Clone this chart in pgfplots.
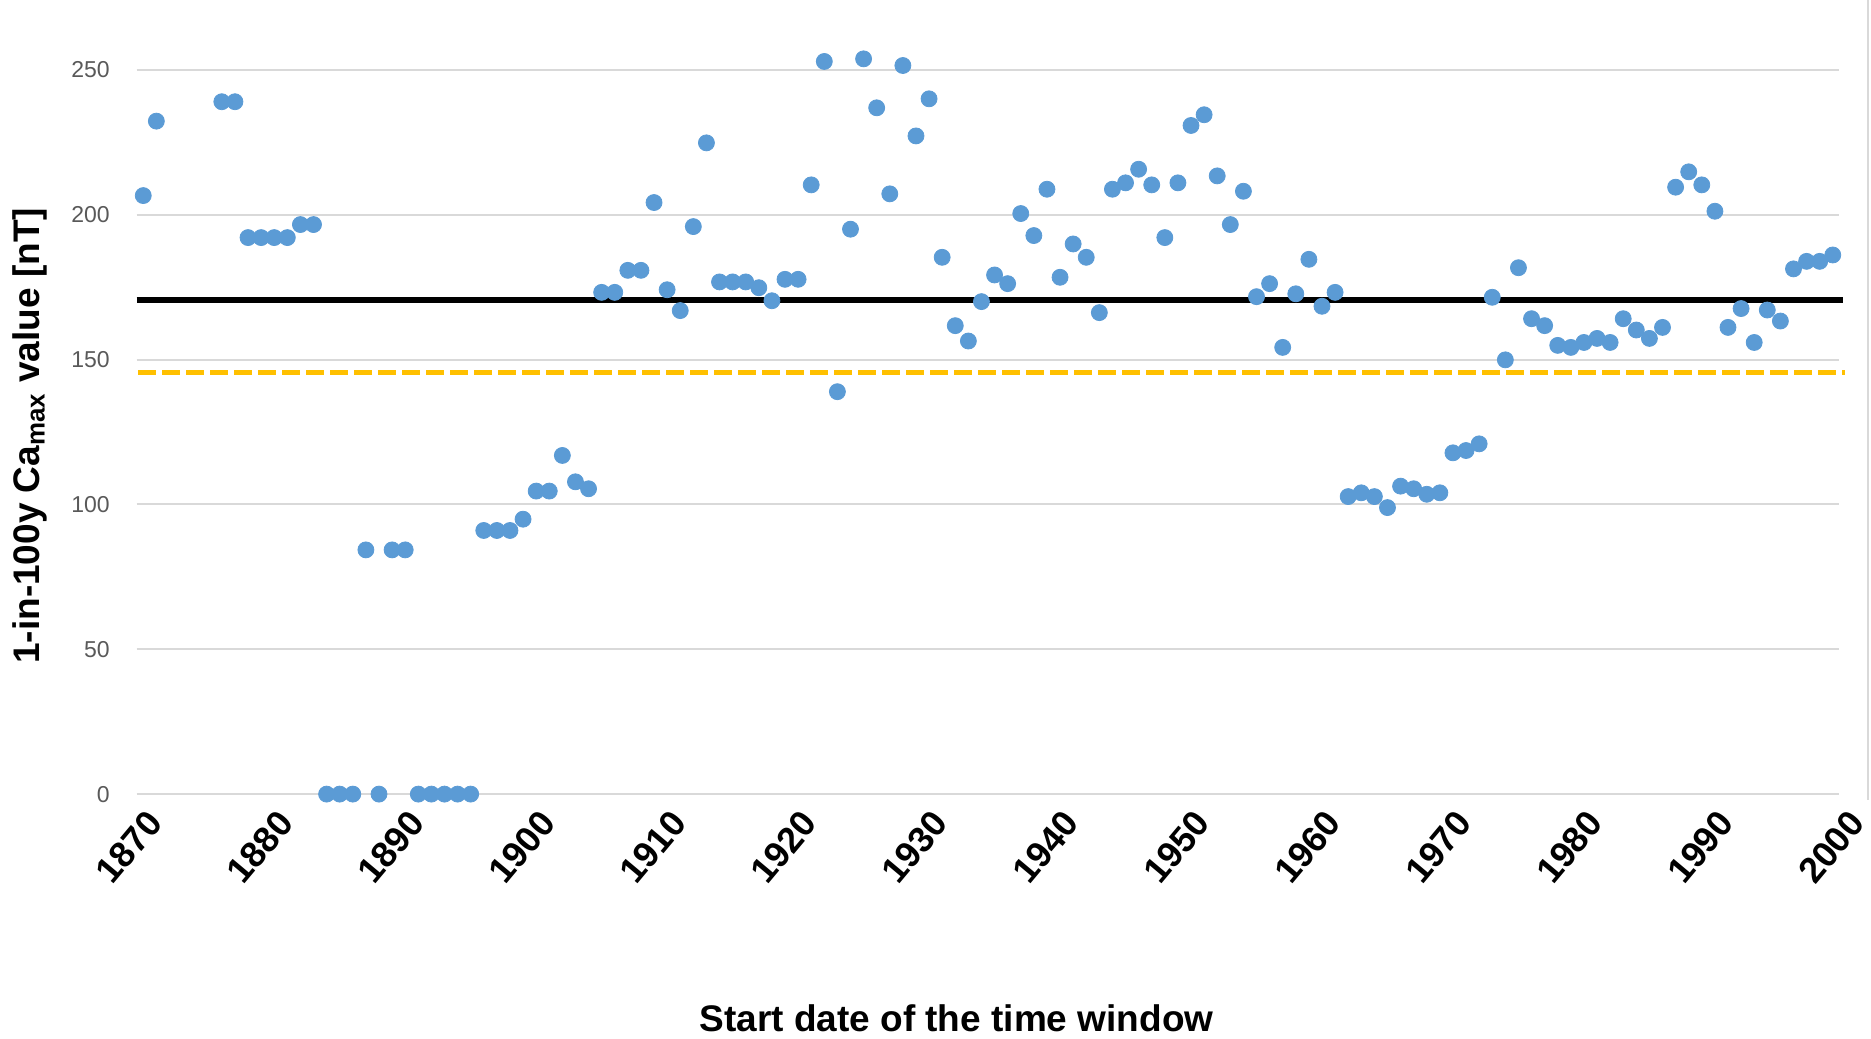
\documentclass[border=0pt]{standalone}
\usepackage{fontspec}
\setmainfont{Liberation Sans}
\usepackage{pgfplots}
\usepackage{pgfplotstable}
\pgfplotsset{compat=1.18}
\definecolor{dotblue}{HTML}{5B9BD5}
\definecolor{gold}{HTML}{FFC000}
\definecolor{gridgray}{HTML}{D9D9D9}
\definecolor{ticktext}{HTML}{595959}
\pgfplotstableread{
year val
1870 206.6
1871 232.3
1876 239.0
1877 239.0
1878 192.1
1879 192.1
1880 192.1
1881 192.1
1882 196.6
1883 196.6
1884 0
1885 0
1886 0
1887 84.3
1888 0
1889 84.3
1890 84.3
1891 0
1892 0
1893 0
1894 0
1895 0
1896 91.0
1897 91.0
1898 91.0
1899 94.9
1900 104.6
1901 104.6
1902 116.9
1903 107.8
1904 105.4
1905 173.2
1906 173.2
1907 180.8
1908 180.8
1909 204.2
1910 174.1
1911 166.9
1912 195.9
1913 224.8
1914 176.8
1915 176.8
1916 176.8
1917 174.8
1918 170.3
1919 177.7
1920 177.7
1921 210.3
1922 252.9
1923 138.9
1924 195.0
1925 253.8
1926 236.9
1927 207.2
1928 251.5
1929 227.2
1930 240.0
1931 185.3
1932 161.7
1933 156.4
1934 170.0
1935 179.2
1936 176.2
1937 200.4
1938 192.8
1939 208.8
1940 178.4
1941 189.9
1942 185.3
1943 166.2
1944 208.8
1945 211.0
1946 215.7
1947 210.3
1948 192.1
1949 211.0
1950 230.8
1951 234.5
1952 213.4
1953 196.6
1954 208.1
1955 171.7
1956 176.2
1957 154.2
1958 172.7
1959 184.6
1960 168.4
1961 173.2
1962 102.7
1963 104.0
1964 102.7
1965 98.9
1966 106.3
1967 105.4
1968 103.5
1969 104.0
1970 117.8
1971 118.6
1972 120.9
1973 171.5
1974 149.9
1975 181.7
1976 164.1
1977 161.7
1978 154.9
1979 154.2
1980 155.9
1981 157.3
1982 155.9
1983 164.1
1984 160.2
1985 157.3
1986 161.1
1987 209.5
1988 214.8
1989 210.3
1990 201.2
1991 161.1
1992 167.6
1993 155.9
1994 167.1
1995 163.3
1996 181.3
1997 183.9
1998 183.9
1999 186.1
}\camax
\begin{document}
\begin{tikzpicture}
\useasboundingbox (0,0) rectangle (935.5pt,519pt);
\draw[gridgray, line width=1pt] (934pt,119pt) -- (934pt,519pt);
\begin{axis}[
  scale only axis, width=851.3pt, height=376.6pt,
  anchor=south west, at={(68.35pt,121.95pt)},
  xmin=1869.5, xmax=1999.5, ymin=0, ymax=260,
  xtick={1869.5,1879.5,1889.5,1899.5,1909.5,1919.5,1929.5,1939.5,1949.5,1959.5,1969.5,1979.5,1989.5,1999.5},
  xticklabels={1870,1880,1890,1900,1910,1920,1930,1940,1950,1960,1970,1980,1990,2000},
  ytick={0,50,100,150,200,250},
  ymajorgrids, grid style={gridgray, line width=1pt},
  axis line style={draw=none}, major tick length=0pt,
  clip=false,
  /pgf/number format/assume math mode=true,
  yticklabel style={font=\fontsize{11.5}{12}\selectfont, text=ticktext, anchor=east, inner sep=0pt, xshift=-13.3pt},
  xticklabel style={font=\bfseries\fontsize{18}{19}\selectfont, inner sep=0pt, xshift=4pt, yshift=-6.8pt, rotate=50, anchor=north east},
  xlabel={Start date of the time window},
  xlabel style={font=\bfseries\fontsize{18.5}{20}\selectfont, at={(axis description cs:0.4815,-0.2973)}, anchor=center},
  ylabel={1-in-100y Ca\textsubscript{max} value [nT]},
  ylabel style={font=\bfseries\fontsize{18.5}{20}\selectfont, at={(axis description cs:-0.0627,0.4757)}, anchor=center},
]
\addplot[black, line width=2.75pt, no markers, forget plot] coordinates {(1869.5,170.6) (1999.8,170.6)};
\addplot[gold, line width=2.5pt, dash pattern=on 8.8pt off 3.2pt, no markers, forget plot] coordinates {(1869.6,145.6) (1999.9,145.6)};
\addplot[dotblue, only marks, mark=*, mark size=4pt, mark options={draw=dotblue, fill=dotblue}] table[x=year, y=val] {\camax};
\end{axis}
\end{tikzpicture}
\end{document}
